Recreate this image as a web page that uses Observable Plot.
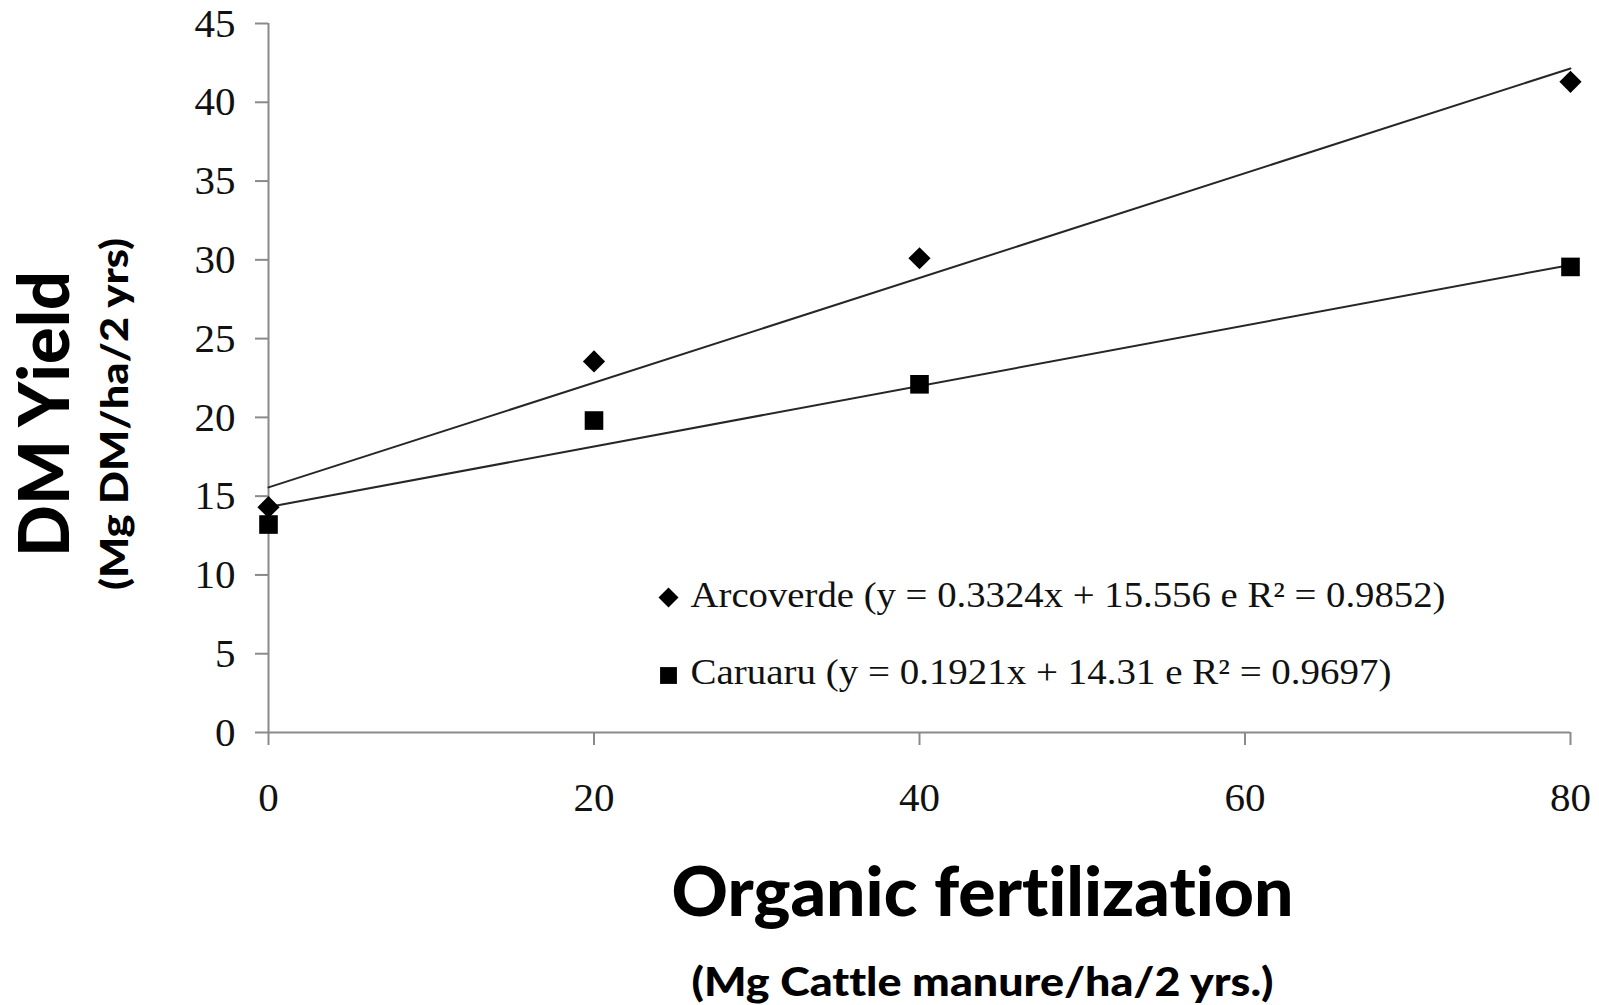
<!DOCTYPE html>
<html>
<head>
<meta charset="utf-8">
<script src="https://cdn.jsdelivr.net/npm/d3@7"></script>
<script src="https://cdn.jsdelivr.net/npm/@observablehq/plot@0.6"></script>
<style>
  html, body { margin: 0; padding: 0; background: #fff; }
  svg text { font-variant-ligatures: none; font-feature-settings: "liga" 0, "clig" 0, "dlig" 0; }
</style>
</head>
<body>
<div id="chart"></div>
<script>
// Cattle manure dose (Mg/ha over 2 years)
const doses = [0, 20, 40, 80];
// Dry-matter yield (Mg DM/ha over 2 years) at each site
const arcoverdeYield = [14.3, 23.55, 30.1, 41.3];
const caruaruYield = [13.2, 19.8, 22.1, 29.55];
const sites = ["Arcoverde", "Caruaru"];
// Linear fits reported for each site
const slopes = [0.3324, 0.1921];
const intercepts = [15.556, 14.31];
const rSquared = [0.9852, 0.9697];
const xTicks = [0, 20, 40, 60, 80];
const yTicks = [0, 5, 10, 15, 20, 25, 30, 35, 40, 45];
const yTitle = "DM Yield";
const yUnits = "(Mg DM/ha/2 yrs)";
const xTitle = "Organic fertilization";
const xUnits = "(Mg Cattle manure/ha/2 yrs.)";

const yields = [arcoverdeYield, caruaruYield];
const points = sites.flatMap((site, i) =>
  doses.map((dose, j) => ({site, dose, yield: yields[i][j]}))
);
const xExtent = [xTicks[0], xTicks[xTicks.length - 1]];
const yExtent = [yTicks[0], yTicks[yTicks.length - 1]];
// Fitted lines drawn from the reported equations across the dose range
const fits = sites.flatMap((site, i) =>
  xExtent.map(dose => ({site, dose, yield: intercepts[i] + slopes[i] * dose}))
);
const legendLabels = sites.map((s, i) =>
  `${s} (y = ${slopes[i]}x + ${intercepts[i]} e R² = ${rSquared[i]})`
);

const serif = "'Liberation Serif', 'Times New Roman', serif";
const sans = "Lato, 'DejaVu Sans', sans-serif";
const axisGrey = "#8a8a8a";
const ink = "#111";
const symbols = ["diamond2", "square"];
const dotR = [10, 10.5];
const legendR = [9, 9.5];

const plot = Plot.plot({
  width: 1599,
  height: 1005,
  marginLeft: 268,
  marginRight: 29,
  marginTop: 23,
  marginBottom: 273,
  style: {background: "white", color: ink},
  x: {domain: xExtent},
  y: {domain: yExtent},
  marks: [
    // axis lines
    Plot.ruleY([yExtent[0]], {x1: xExtent[0], x2: xExtent[1], stroke: axisGrey, strokeWidth: 2}),
    Plot.ruleX([xExtent[0]], {y1: yExtent[0], y2: yExtent[1], stroke: axisGrey, strokeWidth: 2}),
    Plot.axisX({
      ticks: xTicks, tickSize: 13, tickPadding: 36, stroke: axisGrey, strokeWidth: 2,
      fill: ink, fontSize: 41, fontFamily: serif, label: null, tickFormat: d => String(d)
    }),
    Plot.axisY({
      ticks: yTicks, tickSize: 13, tickPadding: 20, stroke: axisGrey, strokeWidth: 2,
      fill: ink, fontSize: 41, fontFamily: serif, label: null, tickFormat: d => String(d)
    }),
    // regression lines
    Plot.line(fits, {x: "dose", y: "yield", z: "site", stroke: "#262626", strokeWidth: 2}),
    // observations
    ...sites.map((s, i) =>
      Plot.dot(points.filter(p => p.site === s), {
        x: "dose", y: "yield", symbol: symbols[i], r: dotR[i], fill: "black"
      })
    ),
    // in-plot legend
    ...sites.map((s, i) =>
      Plot.dot([s], {frameAnchor: "top-left", dx: 400, dy: 574 + 78 * i, symbol: symbols[i], r: legendR[i], fill: "black"})
    ),
    ...sites.map((s, i) =>
      Plot.text([legendLabels[i]], {
        text: d => d, frameAnchor: "top-left", textAnchor: "start", lineAnchor: "middle",
        dx: 422, dy: 572 + 77 * i, fontSize: 36, fontFamily: serif, fill: ink
      })
    ),
    // axis titles
    Plot.text([yTitle], {
      text: d => d, frameAnchor: "left", rotate: -90, textAnchor: "middle", lineAnchor: "middle",
      dx: -222, dy: 36, fontSize: 70, fontWeight: 900, fontFamily: sans, fill: "black"
    }),
    Plot.text([yUnits], {
      text: d => d, frameAnchor: "left", rotate: -90, textAnchor: "middle", lineAnchor: "middle",
      dx: -152, dy: 36, fontSize: 37, fontWeight: 900, fontFamily: sans, fill: "black"
    }),
    Plot.text([xTitle], {
      text: d => d, frameAnchor: "bottom", textAnchor: "middle", lineAnchor: "middle",
      dx: 63, dy: 162, fontSize: 68, fontWeight: 900, fontFamily: sans, fill: "black"
    }),
    Plot.text([xUnits], {
      text: d => d, frameAnchor: "bottom", textAnchor: "middle", lineAnchor: "middle",
      dx: 63, dy: 251, fontSize: 39, fontWeight: 900, fontFamily: sans, fill: "black"
    })
  ]
});

document.getElementById("chart").appendChild(plot);

// set the rendered length of the titles and legend entries
const textWidths = new Map([
  [yTitle, 286], [yUnits, 352], [xTitle, 622], [xUnits, 582],
  [legendLabels[0], 755], [legendLabels[1], 701]
]);
d3.select(plot).selectAll("text").each(function () {
  const w = textWidths.get(this.textContent);
  if (w) d3.select(this).attr("textLength", w).attr("lengthAdjust", "spacingAndGlyphs");
});
</script>
</body>
</html>
